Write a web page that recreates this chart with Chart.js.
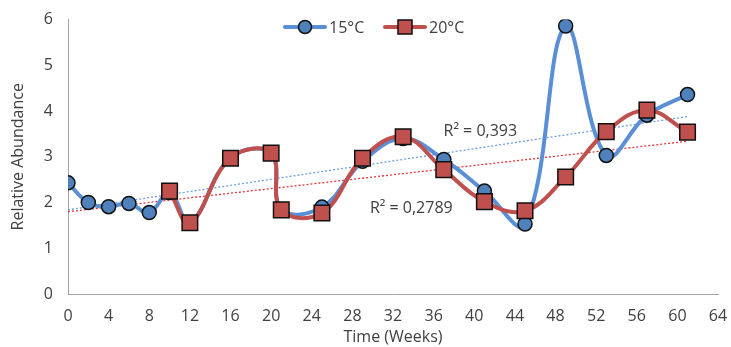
<!DOCTYPE html>
<html>
<head>
<meta charset="utf-8">
<script src="https://cdn.jsdelivr.net/npm/chart.js@4.4.0/dist/chart.umd.min.js"></script>
<style>
    html, body { margin: 0; padding: 0; background: #fff; }
    #wrap { width: 731px; height: 347px; }
</style>
</head>
<body>
<div id="wrap"><canvas id="chart" width="731" height="347"></canvas></div>
<script>
// values
const weeks15 = [0, 2, 4, 6, 8, 10, 12, 16, 20, 21, 25, 29, 33, 37, 41, 45, 49, 53, 57, 61]
const abundance15 = [2.43, 2.0, 1.91, 1.98, 1.78, 2.22, 1.56, 2.98, 3.07, 1.85, 1.9, 2.9, 3.4, 2.94, 2.25, 1.53, 5.86, 3.03, 3.91, 4.36]
const weeks20 = [10, 12, 16, 20, 21, 25, 29, 33, 37, 41, 45, 49, 53, 57, 61]
const abundance20 = [2.25, 1.56, 2.97, 3.08, 1.84, 1.77, 2.97, 3.44, 2.72, 2.02, 1.82, 2.56, 3.55, 4.02, 3.54]

// trendline ends
const trendWeeks = [0, 61]
const trend15 = [1.84, 3.88]
const trend20 = [1.80, 3.34]

const seriesNames = ['15°C', '20°C']
const r2Texts = ['R² = 0,393', 'R² = 0,2789']
const r2Anchors = [[40.6, 3.55], [33.8, 1.88]]

const FONT = '"Open Sans", sans-serif'
const TEXT = '#404040'
const BLUE_LINE = '#5A8FD6'
const BLUE_FILL = '#4F81BD'
const RED = '#C0504D'

const points = (xs, ys) => xs.map((x, i) => ({ x: x, y: ys[i] }))

const overlay = {
    id: 'overlay',
    afterDraw(chart) {
        const ctx = chart.ctx
        const xs = chart.scales.x
        const ys = chart.scales.y
        ctx.save()
        ctx.font = `16px ${FONT}`
        ctx.fillStyle = TEXT
        ctx.textBaseline = 'middle'
        ctx.textAlign = 'center'
        r2Texts.forEach((t, i) => {
            ctx.fillText(t, xs.getPixelForValue(r2Anchors[i][0]), ys.getPixelForValue(r2Anchors[i][1]))
        })

        // legend: line + marker + text
        const items = [
            { name: seriesNames[0], line: BLUE_LINE, fill: BLUE_FILL, shape: 'circle' },
            { name: seriesNames[1], line: RED, fill: RED, shape: 'square' }
        ]
        let x = 285
        const y = 27
        ctx.textAlign = 'left'
        items.forEach(it => {
            ctx.strokeStyle = it.line
            ctx.lineWidth = 4
            ctx.lineCap = 'round'
            ctx.beginPath()
            ctx.moveTo(x, y)
            ctx.lineTo(x + 40, y)
            ctx.stroke()
            ctx.fillStyle = it.fill
            ctx.strokeStyle = '#111'
            ctx.lineWidth = 1.5
            ctx.beginPath()
            if (it.shape === 'circle') ctx.arc(x + 20, y, 6.5, 0, Math.PI * 2)
            else ctx.rect(x + 13, y - 7, 14, 14)
            ctx.fill()
            ctx.stroke()
            ctx.fillStyle = TEXT
            ctx.fillText(it.name, x + 44, y + 1)
            x += 100
        })
        ctx.restore()
    }
}

const ctx = document.getElementById('chart')

new Chart(ctx, {
    type: 'scatter',
    data: {
        datasets: [
            {
                label: seriesNames[1],
                data: points(weeks20, abundance20),
                showLine: true,
                borderColor: RED,
                borderWidth: 4,
                tension: 0.4,
                pointStyle: 'rect',
                pointRadius: 11,
                pointBackgroundColor: RED,
                pointBorderColor: '#111',
                pointBorderWidth: 1.5,
                order: 0
            },
            {
                label: seriesNames[0],
                data: points(weeks15, abundance15),
                showLine: true,
                borderColor: BLUE_LINE,
                borderWidth: 4,
                tension: 0.4,
                pointStyle: 'circle',
                pointRadius: 7,
                pointBackgroundColor: BLUE_FILL,
                pointBorderColor: '#111',
                pointBorderWidth: 1.5,
                order: 1
            },
            {
                label: 'trend15',
                data: points(trendWeeks, trend15),
                showLine: true,
                borderColor: '#6E9FE0',
                borderWidth: 1.3,
                borderDash: [2, 2],
                pointRadius: 0,
                order: 2
            },
            {
                label: 'trend20',
                data: points(trendWeeks, trend20),
                showLine: true,
                borderColor: '#E2363C',
                borderWidth: 1.3,
                borderDash: [2, 2],
                pointRadius: 0,
                order: 2
            }
        ]
    },
    options: {
        responsive: false,
        animation: false,
        layout: { padding: { left: 9, right: 13, top: 17, bottom: 0 } },
        plugins: {
            legend: { display: false },
            tooltip: { enabled: false }
        },
        scales: {
            x: {
                type: 'linear',
                min: 0,
                max: 64,
                afterFit: scale => {
                    scale.height = 53
                    scale.paddingLeft = 0
                    scale.paddingRight = 0
                },
                ticks: { stepSize: 4, color: TEXT, font: { family: FONT, size: 16 }, padding: 8 },
                grid: { display: false, drawTicks: true, tickLength: 5, tickColor: '#A6A6A6' },
                border: { color: '#A6A6A6', width: 1 },
                title: { display: true, text: 'Time (Weeks)', color: TEXT, font: { family: FONT, size: 16 }, padding: { top: 0, bottom: 0 } }
            },
            y: {
                min: 0,
                max: 6,
                afterFit: scale => { scale.width = 59 },
                ticks: { stepSize: 1, color: TEXT, font: { family: FONT, size: 16 }, padding: 10 },
                grid: { display: false, drawTicks: true, tickLength: 5, tickColor: '#A6A6A6' },
                border: { color: '#A6A6A6', width: 1 },
                title: { display: true, text: 'Relative Abundance', color: TEXT, font: { family: FONT, size: 16 }, padding: { top: 0, bottom: 0 } }
            }
        }
    },
    plugins: [overlay]
})
</script>
</body>
</html>
